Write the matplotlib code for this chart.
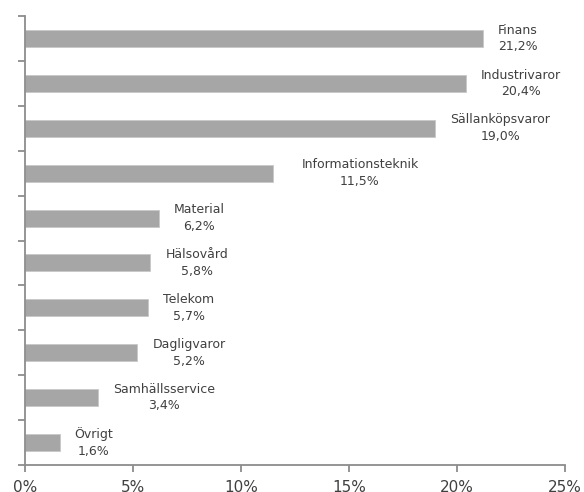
import matplotlib.pyplot as plt
from matplotlib.ticker import FuncFormatter

plt.rcParams.update({
    "font.family": "DejaVu Sans",
    "font.size": 10
})

categories = ["Finans", "Industrivaror", "Sällanköpsvaror", "Informationsteknik",
              "Material", "Hälsovård", "Telekom", "Dagligvaror",
              "Samhällsservice", "Övrigt"]
values = [21.2, 20.4, 19.0, 11.5, 6.2, 5.8, 5.7, 5.2, 3.4, 1.6]
value_labels = ["21,2%", "20,4%", "19,0%", "11,5%", "6,2%", "5,8%",
                "5,7%", "5,2%", "3,4%", "1,6%"]

text_col = "#404040"
axis_col = "#8c8c8c"

fig = plt.figure(figsize=(5.84, 4.92), dpi=100)
ax = fig.add_axes([25/584, 1-465/492, 540/584, 449/492])

ypos = list(range(len(categories)))
ax.barh(ypos, values, height=0.38, color="#a6a6a6",
        edgecolor="#c8c8c8", linewidth=0.6, zorder=2)

ax.set_ylim(len(categories)-0.5, -0.5)
ax.set_xlim(0, 25)

# labels right of each bar end
px = 25/540
for i, (v, name, lab) in enumerate(zip(values, categories, value_labels)):
    off = 28 if name == "Informationsteknik" else 15
    ax.text(v + off*px, i, name + "\n" + lab, ha="left", va="center",
            multialignment="center", fontsize=9, color=text_col,
            linespacing=1.35, zorder=4,
            bbox=dict(boxstyle="square,pad=0.15", fc="white", ec="none"))

ax.set_xticks([0, 5, 10, 15, 20, 25])
ax.xaxis.set_major_formatter(FuncFormatter(lambda x, p: f"{x:.0f}%"))
ax.set_yticks([i - 0.5 for i in range(len(categories)+1)])
ax.set_yticklabels([])

for s in ["top", "right"]:
    ax.spines[s].set_visible(False)
for s in ["left", "bottom"]:
    ax.spines[s].set_color(axis_col)
    ax.spines[s].set_linewidth(1.3)
    ax.spines[s].set_zorder(3)

ax.tick_params(axis="both", color=axis_col, width=1.3, length=5,
               direction="out")
ax.tick_params(axis="x", labelsize=11, labelcolor=text_col, pad=6)

fig.savefig("out.png", dpi=100)
